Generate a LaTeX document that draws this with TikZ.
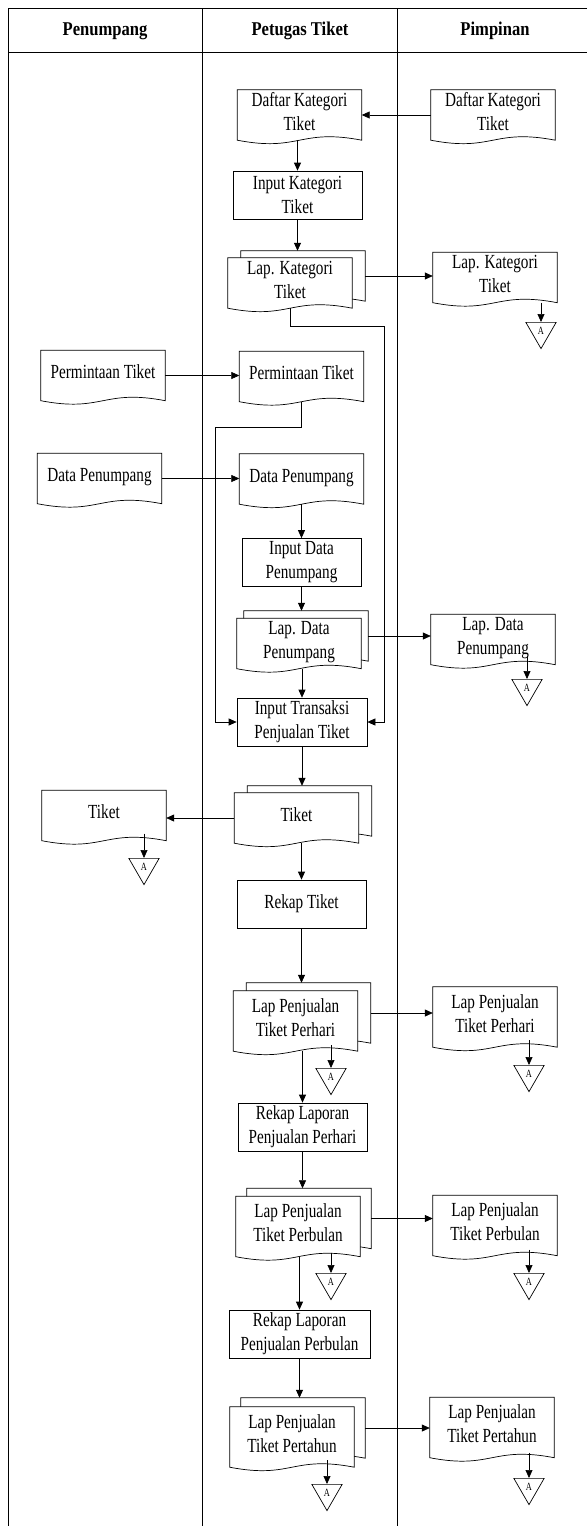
\documentclass[tikz,border=0pt]{standalone}
\usepackage{fontspec}
\setmainfont[FakeStretch=0.76]{Liberation Serif}
\newfontfamily\judulfont[FakeStretch=0.85]{Liberation Serif}
\usepackage{tikz}
\usetikzlibrary{arrows.meta,calc,shapes.geometric,backgrounds}

% bentuk dokumen (bawah bergelombang), digambar di belakang node
\newcommand{\dokumen}[1]{%
  \begin{scope}[on background layer]
    \draw[garis,fill=white] (#1.north west) -- (#1.north east) -- (#1.south east)
      .. controls ($(#1.south)+(0,-12)$) and ($(#1.south)+(0,12)$) .. (#1.south west) -- cycle;
  \end{scope}}

\begin{document}
\begin{tikzpicture}[x=1pt,y=-1pt,
    garis/.style={line width=0.7pt},
    panah/.style={garis,-{Triangle[length=8pt,width=7pt]}},
    teks/.style={font=\fontsize{20}{24}\selectfont,align=center,inner sep=1pt},
    doc/.style={teks,rectangle,text depth=7pt,minimum width=124pt,minimum height=50pt},
    docbesar/.style={doc,minimum height=60pt},
    proses/.style={teks,draw,garis,rectangle,minimum width=129pt,minimum height=48pt},
    hal/.style={draw,garis,regular polygon,regular polygon sides=3,shape border rotate=180,
      minimum size=35pt,inner sep=0pt,anchor=north,font=\fontsize{11}{11}\selectfont},
    judul/.style={font=\judulfont\fontsize{19.5}{24}\selectfont\bfseries}]
  \useasboundingbox (0,0) rectangle (587,1526);

  %% kerangka kolom
  \draw[garis] (587,8) -- (8,8) -- (8,1526);
  \draw[garis] (8,52) -- (587,52);
  \draw[garis] (202,8) -- (202,1526);
  \draw[garis] (397,8) -- (397,1526);
  \node[judul] (hPenumpang) at (105,31) {Penumpang};
  \node[judul] (hPetugas) at (300,31) {Petugas Tiket};
  \node[judul] (hPimpinan) at (495,31) {Pimpinan};

  %% kategori tiket
  \node[doc] (dkt1) at (299.5,115) {Daftar Kategori\\Tiket};
  \node[doc] (dkt3) at (493,115) {Daftar Kategori\\Tiket};
  \node[proses] (ikt) at (297.5,195) {Input Kategori\\Tiket};
  \node[doc] (lktb) at (303,276) {};
  \node[doc] (lkt) at (290,283) {Lap. Kategori\\Tiket};
  \node[doc] (lkt3) at (495,277.5) {Lap. Kategori\\Tiket};
  \node[hal] (a1) at (541,322) {A};
  \dokumen{dkt1}\dokumen{dkt3}\dokumen{lktb}\dokumen{lkt}\dokumen{lkt3}

  %% permintaan dan data penumpang
  \node[doc] (pt1) at (103,375.5) {Permintaan Tiket};
  \node[doc] (pt2) at (301.5,376.5) {Permintaan Tiket};
  \node[doc] (dp1) at (99.5,478.5) {Data Penumpang};
  \node[doc] (dp2) at (301.5,479) {Data Penumpang};
  \node[proses,minimum width=119pt] (idp) at (301.5,562.5) {Input Data\\Penumpang};
  \node[doc] (ldpb) at (306,636) {};
  \node[doc] (ldp) at (299,643.5) {Lap. Data\\Penumpang};
  \node[doc] (ldp3) at (493,639.5) {Lap. Data\\Penumpang};
  \node[hal] (a2) at (527,679) {A};
  \dokumen{pt1}\dokumen{pt2}\dokumen{dp1}\dokumen{dp2}
  \dokumen{ldpb}\dokumen{ldp}\dokumen{ldp3}

  %% transaksi
  \node[proses,minimum width=130pt] (itj) at (302,722) {Input Transaksi\\Penjualan Tiket};
  \node[doc] (tk2b) at (309.5,811) {};
  \node[doc] (tk2) at (296.5,818) {Tiket};
  \node[doc] (tk1) at (104,815.5) {Tiket};
  \node[hal] (a3) at (144,858) {A};
  \node[proses] (rt) at (301.5,904) {Rekap Tiket};
  \dokumen{tk2b}\dokumen{tk2}\dokumen{tk1}

  %% laporan
  \node[docbesar] (lphb) at (308.5,1013) {};
  \node[docbesar] (lph) at (295.5,1021) {Lap Penjualan\\Tiket Perhari};
  \node[docbesar] (lph3) at (495,1017) {Lap Penjualan\\Tiket Perhari};
  \node[hal] (a4) at (331,1068) {A};
  \node[hal] (a5) at (529,1065) {A};
  \node[proses] (rlh) at (302.5,1127) {Rekap Laporan\\Penjualan Perhari};
  \node[docbesar] (lpbb) at (309,1218.5) {};
  \node[docbesar] (lpb) at (298,1226.5) {Lap Penjualan\\Tiket Perbulan};
  \node[docbesar] (lpb3) at (495,1225.5) {Lap Penjualan\\Tiket Perbulan};
  \node[hal] (a6) at (331,1273) {A};
  \node[hal] (a7) at (529,1273) {A};
  \node[proses,minimum width=141pt] (rlb) at (299.5,1334) {Rekap Laporan\\Penjualan Perbulan};
  \node[docbesar] (lptb) at (303,1428) {};
  \node[docbesar] (lpt) at (292,1437) {Lap Penjualan\\Tiket Pertahun};
  \node[docbesar] (lpt3) at (492,1427.5) {Lap Penjualan\\Tiket Pertahun};
  \node[hal] (a8) at (327,1484) {A};
  \node[hal] (a9) at (529,1478) {A};
  \dokumen{lphb}\dokumen{lph}\dokumen{lph3}
  \dokumen{lpbb}\dokumen{lpb}\dokumen{lpb3}
  \dokumen{lptb}\dokumen{lpt}\dokumen{lpt3}

  %% alur
  \coordinate (belok1) at (384,326);
  \coordinate (belok2) at (215,427);
  \draw[panah] (dkt3.west) -- (dkt1.east);
  \draw[panah] (ikt.north |- dkt1.south) -- (ikt.north);
  \draw[panah] (ikt.south) -- (ikt.south |- lktb.north);
  \draw[panah] (lktb.east) -- (lktb.east -| lkt3.west);
  \draw[panah] (a1.north |- lkt3.south) -- (a1.north);
  \draw[panah] (lkt.south) |- (belok1) |- (itj.east);
  \draw[panah] (pt1.east) -- (pt1.east -| pt2.west);
  \draw[panah] (pt2.south) |- (belok2) |- (itj.west);
  \draw[panah] (dp1.east) -- (dp1.east -| dp2.west);
  \draw[panah] (dp2.south) -- (idp.north);
  \draw[panah] (idp.south) -- (idp.south |- ldpb.north);
  \draw[panah] (ldpb.east) -- (ldpb.east -| ldp3.west);
  \draw[panah] ($(a2.north |- ldp3.south)+(0,-9)$) -- (a2.north);
  \draw[panah] (itj.north |- ldp.south) -- (itj.north);
  \draw[panah] (itj.south) -- (itj.south |- tk2b.north);
  \draw[panah] (tk2.west) -- (tk2.west -| tk1.east);
  \draw[panah] ($(a3.north |- tk1.south)+(0,-7)$) -- (a3.north);
  \draw[panah] (rt.north |- tk2.south) -- (rt.north);
  \draw[panah] (rt.south) -- (rt.south |- lphb.north);
  \draw[panah] (lphb.east) -- (lphb.east -| lph3.west);
  \draw[panah] ($(a4.north |- lph.south)+(0,-6)$) -- (a4.north);
  \draw[panah] ($(a5.north |- lph3.south)+(0,-7)$) -- (a5.north);
  \draw[panah] (rlh.north |- lph.south) -- (rlh.north);
  \draw[panah] (rlh.south) -- (rlh.south |- lpbb.north);
  \draw[panah] (lpbb.east) -- (lpbb.east -| lpb3.west);
  \draw[panah] ($(a6.north |- lpb.south)+(0,-4)$) -- (a6.north);
  \draw[panah] ($(a7.north |- lpb3.south)+(0,-6)$) -- (a7.north);
  \draw[panah] (rlb.north |- lpb.south) -- (rlb.north);
  \draw[panah] (rlb.south) -- (rlb.south |- lptb.north);
  \draw[panah] (lptb.east) -- (lptb.east -| lpt3.west);
  \draw[panah] ($(a8.north |- lpt.south)+(0,-7)$) -- (a8.north);
  \draw[panah] ($(a9.north |- lpt3.south)+(0,-5)$) -- (a9.north);
\end{tikzpicture}
\end{document}
